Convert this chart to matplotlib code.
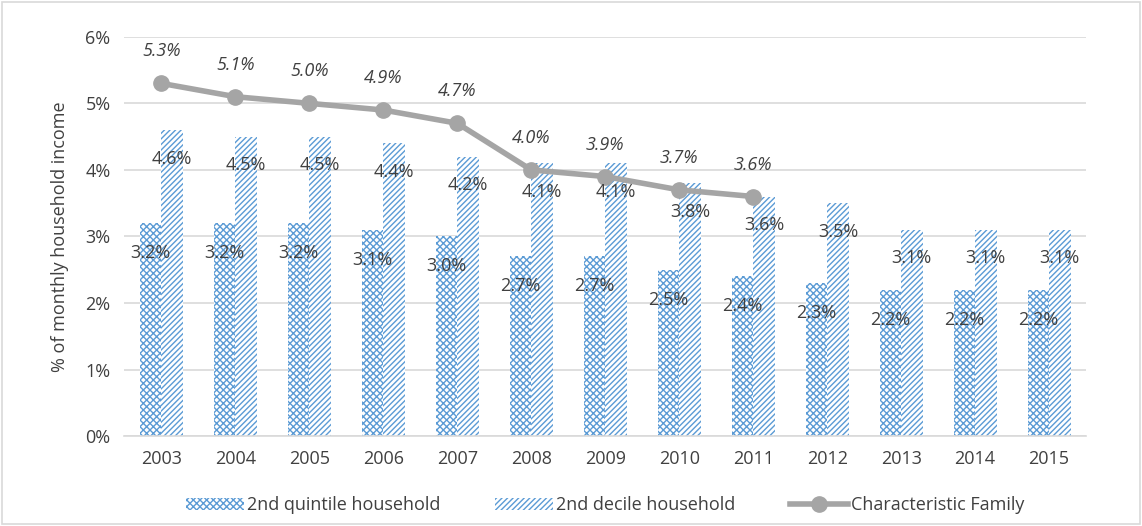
import numpy as np
import matplotlib
matplotlib.use("Agg")
from matplotlib import pyplot as plt
from matplotlib.patches import Rectangle

years = ["2003", "2004", "2005", "2006", "2007", "2008", "2009",
         "2010", "2011", "2012", "2013", "2014", "2015"]
quintile = [3.2, 3.2, 3.2, 3.1, 3.0, 2.7, 2.7, 2.5, 2.4, 2.3, 2.2, 2.2, 2.2]
decile = [4.6, 4.5, 4.5, 4.4, 4.2, 4.1, 4.1, 3.8, 3.6, 3.5, 3.1, 3.1, 3.1]
family = [5.3, 5.1, 5.0, 4.9, 4.7, 4.0, 3.9, 3.7, 3.6]

BLUE = "#5B9BD5"
GREY = "#A5A5A5"
TXT = "#404040"

plt.rcParams["font.family"] = ["Open Sans", "DejaVu Sans"]
plt.rcParams["hatch.linewidth"] = 1.0
plt.rcParams["hatch.color"] = BLUE

fig = plt.figure(figsize=(11.42, 5.26), dpi=100)
ax = fig.add_axes([0.109, 0.171, 0.842, 0.759])

x = np.arange(len(years))
w = 0.29
b1 = ax.bar(x - w / 2, quintile, w, color="white", edgecolor=BLUE,
            hatch="xxxxx", linewidth=0, label="2nd quintile household",
            zorder=2)
b2 = ax.bar(x + w / 2, decile, w, color="white", edgecolor=BLUE,
            hatch="//////", linewidth=0, label="2nd decile household",
            zorder=2)

xf = x[:len(family)]
ln, = ax.plot(xf, family, color=GREY, lw=4, marker="o", ms=11, zorder=4,
              label="Characteristic Family")

for i in range(len(years)):
    ax.text(x[i] - w / 2, quintile[i] - 0.45, f"{quintile[i]:.1f}%",
            ha="center", va="center", fontsize=13, color=TXT, zorder=5)
    ax.text(x[i] + w / 2, decile[i] - 0.43, f"{decile[i]:.1f}%",
            ha="center", va="center", fontsize=13, color=TXT, zorder=5)
for i in range(len(family)):
    ax.text(xf[i], family[i] + 0.48, f"{family[i]:.1f}%", ha="center",
            va="center", fontsize=13, color=TXT, style="italic", zorder=5)

ax.set_ylim(0, 6)
ax.set_xlim(-0.5, len(years) - 0.5)
ax.set_yticks(range(7))
ax.set_yticklabels([f"{v}%" for v in range(7)])
ax.set_xticks(x)
ax.set_xticklabels(years)
ax.tick_params(length=0, labelsize=13, colors=TXT, pad=10)
ax.yaxis.grid(True, color="#D9D9D9", lw=1.2, zorder=0)
ax.set_axisbelow(True)
for s in ["top", "right", "left"]:
    ax.spines[s].set_visible(False)
ax.spines["bottom"].set_color("#D9D9D9")
ax.spines["bottom"].set_linewidth(1.2)
ax.set_ylabel("% of monthly household income", fontsize=13, color=TXT,
              labelpad=12)

ax.legend(handles=[b1, b2, ln], loc="upper center",
          bbox_to_anchor=(0.5, -0.11), ncol=3, frameon=False, fontsize=13,
          labelcolor=TXT, handlelength=3.2, columnspacing=3,
          handletextpad=0.2)

fig.patches.append(Rectangle((0.002, 0.003), 0.996, 0.993,
                             transform=fig.transFigure, fill=False,
                             edgecolor="#D9D9D9", lw=1.2))

fig.savefig("out.png", dpi=100)
